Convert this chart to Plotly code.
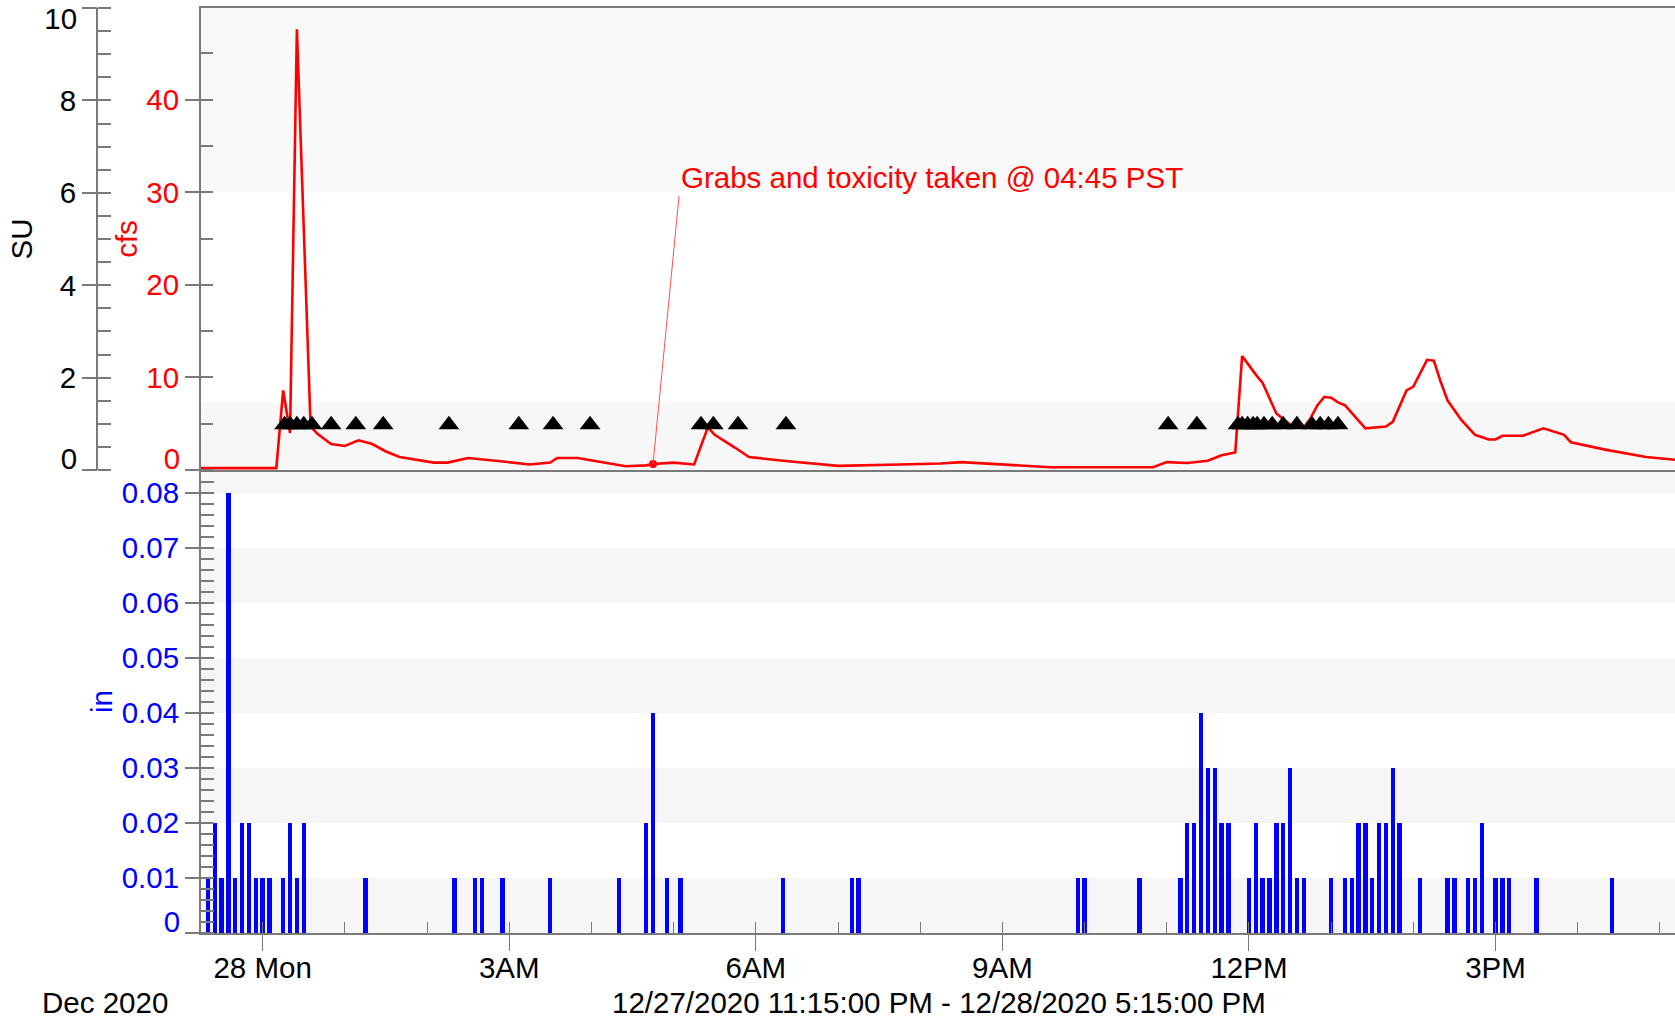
import plotly.graph_objects as go

# ---------------- data ----------------
flow_time = [
    "2020-12-27 23:15", "2020-12-28 00:10", "2020-12-28 00:15", "2020-12-28 00:20",
    "2020-12-28 00:25", "2020-12-28 00:35", "2020-12-28 00:40", "2020-12-28 00:50",
    "2020-12-28 01:00", "2020-12-28 01:10", "2020-12-28 01:20", "2020-12-28 01:30",
    "2020-12-28 01:40", "2020-12-28 01:55", "2020-12-28 02:05", "2020-12-28 02:15",
    "2020-12-28 02:30", "2020-12-28 02:50", "2020-12-28 03:15", "2020-12-28 03:30",
    "2020-12-28 03:35", "2020-12-28 03:50", "2020-12-28 04:05", "2020-12-28 04:25",
    "2020-12-28 04:40", "2020-12-28 04:45", "2020-12-28 05:00", "2020-12-28 05:15",
    "2020-12-28 05:25", "2020-12-28 05:30", "2020-12-28 05:45", "2020-12-28 05:55",
    "2020-12-28 06:20", "2020-12-28 06:35", "2020-12-28 07:00", "2020-12-28 07:45",
    "2020-12-28 08:15", "2020-12-28 08:30", "2020-12-28 09:05", "2020-12-28 09:35",
    "2020-12-28 10:15", "2020-12-28 10:50", "2020-12-28 11:00", "2020-12-28 11:15",
    "2020-12-28 11:30", "2020-12-28 11:40", "2020-12-28 11:50", "2020-12-28 11:55",
    "2020-12-28 12:05", "2020-12-28 12:10", "2020-12-28 12:20", "2020-12-28 12:30",
    "2020-12-28 12:40", "2020-12-28 12:45", "2020-12-28 12:50", "2020-12-28 12:55",
    "2020-12-28 13:00", "2020-12-28 13:05", "2020-12-28 13:10", "2020-12-28 13:25",
    "2020-12-28 13:40", "2020-12-28 13:45", "2020-12-28 13:55", "2020-12-28 14:00",
    "2020-12-28 14:10", "2020-12-28 14:15", "2020-12-28 14:20", "2020-12-28 14:25",
    "2020-12-28 14:35", "2020-12-28 14:45", "2020-12-28 14:55", "2020-12-28 15:00",
    "2020-12-28 15:05", "2020-12-28 15:20", "2020-12-28 15:35", "2020-12-28 15:50",
    "2020-12-28 15:55", "2020-12-28 16:20", "2020-12-28 16:50", "2020-12-28 17:15",
]
flow_cfs = [
    0.2, 0.2, 8.6, 4.0,
    47.6, 4.7, 3.9, 2.8,
    2.6, 3.2, 2.8, 2.0,
    1.4, 1.0, 0.8, 0.8,
    1.3, 1.0, 0.6, 0.8,
    1.3, 1.3, 0.9, 0.4,
    0.5, 0.65, 0.8, 0.6,
    4.6, 3.8, 2.4, 1.4,
    1.0, 0.8, 0.45, 0.6,
    0.7, 0.85, 0.55, 0.3,
    0.3, 0.3, 0.85, 0.75,
    1.0, 1.6, 1.9, 12.3,
    10.3, 9.4, 6.1, 4.9,
    4.6, 5.6, 7.0, 7.9,
    7.8, 7.3, 7.0, 4.5,
    4.7, 5.2, 8.6, 9.0,
    11.9, 11.8, 9.5, 7.5,
    5.4, 3.8, 3.3, 3.3,
    3.7, 3.7, 4.5, 3.8,
    3.0, 2.2, 1.4, 1.05,
]

sample_time = [
    "2020-12-28 00:16", "2020-12-28 00:20", "2020-12-28 00:25", "2020-12-28 00:30",
    "2020-12-28 00:36", "2020-12-28 00:50", "2020-12-28 01:08", "2020-12-28 01:28",
    "2020-12-28 02:16", "2020-12-28 03:07", "2020-12-28 03:32", "2020-12-28 03:59",
    "2020-12-28 05:20", "2020-12-28 05:29", "2020-12-28 05:47", "2020-12-28 06:22",
    "2020-12-28 11:01", "2020-12-28 11:22", "2020-12-28 11:52", "2020-12-28 11:55",
    "2020-12-28 11:59", "2020-12-28 12:03", "2020-12-28 12:06", "2020-12-28 12:11",
    "2020-12-28 12:17", "2020-12-28 12:25", "2020-12-28 12:35", "2020-12-28 12:46",
    "2020-12-28 12:52", "2020-12-28 12:58", "2020-12-28 13:05",
]
sample_marker_cfs = [4.9] * len(sample_time)

rain_time = [
    "2020-12-27 23:20", "2020-12-27 23:25", "2020-12-27 23:30", "2020-12-27 23:35",
    "2020-12-27 23:40", "2020-12-27 23:45", "2020-12-27 23:50", "2020-12-27 23:55",
    "2020-12-28 00:00", "2020-12-28 00:05", "2020-12-28 00:15", "2020-12-28 00:20",
    "2020-12-28 00:25", "2020-12-28 00:30", "2020-12-28 01:15", "2020-12-28 02:20",
    "2020-12-28 02:35", "2020-12-28 02:40", "2020-12-28 02:55", "2020-12-28 03:30",
    "2020-12-28 04:20", "2020-12-28 04:40", "2020-12-28 04:45", "2020-12-28 04:55",
    "2020-12-28 05:05", "2020-12-28 06:20", "2020-12-28 07:10", "2020-12-28 07:15",
    "2020-12-28 09:55", "2020-12-28 10:00", "2020-12-28 10:40", "2020-12-28 11:10",
    "2020-12-28 11:15", "2020-12-28 11:20", "2020-12-28 11:25", "2020-12-28 11:30",
    "2020-12-28 11:35", "2020-12-28 11:40", "2020-12-28 11:45", "2020-12-28 12:00",
    "2020-12-28 12:05", "2020-12-28 12:10", "2020-12-28 12:15", "2020-12-28 12:20",
    "2020-12-28 12:25", "2020-12-28 12:30", "2020-12-28 12:35", "2020-12-28 12:40",
    "2020-12-28 13:00", "2020-12-28 13:10", "2020-12-28 13:15", "2020-12-28 13:20",
    "2020-12-28 13:25", "2020-12-28 13:30", "2020-12-28 13:35", "2020-12-28 13:40",
    "2020-12-28 13:45", "2020-12-28 13:50", "2020-12-28 14:05", "2020-12-28 14:25",
    "2020-12-28 14:30", "2020-12-28 14:40", "2020-12-28 14:45", "2020-12-28 14:50",
    "2020-12-28 15:00", "2020-12-28 15:05", "2020-12-28 15:10", "2020-12-28 15:30",
    "2020-12-28 16:25",
]
rain_in = [
    0.01, 0.02, 0.01, 0.08,
    0.01, 0.02, 0.02, 0.01,
    0.01, 0.01, 0.01, 0.02,
    0.01, 0.02, 0.01, 0.01,
    0.01, 0.01, 0.01, 0.01,
    0.01, 0.02, 0.04, 0.01,
    0.01, 0.01, 0.01, 0.01,
    0.01, 0.01, 0.01, 0.01,
    0.02, 0.02, 0.04, 0.03,
    0.03, 0.02, 0.02, 0.01,
    0.02, 0.01, 0.01, 0.02,
    0.02, 0.03, 0.01, 0.01,
    0.01, 0.01, 0.01, 0.02,
    0.02, 0.01, 0.02, 0.02,
    0.03, 0.02, 0.01, 0.01,
    0.01, 0.01, 0.01, 0.02,
    0.01, 0.01, 0.01, 0.01,
    0.01,
]

grab_time = ["2020-12-28 04:45"]
grab_cfs = [0.65]
grab_label = "Grabs and toxicity taken @ 04:45 PST"

x_tick_vals = ["2020-12-28 00:00", "2020-12-28 03:00", "2020-12-28 06:00",
               "2020-12-28 09:00", "2020-12-28 12:00", "2020-12-28 15:00"]
x_tick_text = ["28 Mon", "3AM", "6AM", "9AM", "12PM", "3PM"]
cfs_ticks = [0, 10, 20, 30, 40]
cfs_tick_text = ["", "10", "20", "30", "40"]
su_ticks = [0, 2, 4, 6, 8, 10]
su_tick_text = ["", "2", "4", "6", "8", ""]
in_ticks = [0, 0.01, 0.02, 0.03, 0.04, 0.05, 0.06, 0.07, 0.08]
in_tick_text = ["", "0.01", "0.02", "0.03", "0.04", "0.05", "0.06", "0.07", "0.08"]

x_range = ["2020-12-27 23:15", "2020-12-28 17:11"]
period_text = "12/27/2020 11:15:00 PM - 12/28/2020 5:15:00 PM"
month_text = "Dec 2020"

# ---------------- layout constants ----------------
W, H = 1675, 1019
FONT = "Liberation Sans, Arial, sans-serif"
FS = 29.5
AX = "#7a7a7a"
RED = "#ff0000"
BLUE = "#0000ff"
x_dom = [201 / W, 1.0]
top_dom = [(H - 470) / H, (H - 8) / H]
bot_dom = [(H - 933) / H, (H - 470) / H]
SU_POS = 97 / W
SU_RANGE = [0, 10.001]
CFS_RANGE = [0, 49.9]
IN_RANGE = [0, 0.08418]

fig = go.Figure()

fig.add_trace(go.Bar(x=rain_time, y=rain_in, width=190000, marker=dict(color=BLUE, line=dict(width=0)),
                     xaxis="x2", yaxis="y2", showlegend=False, hoverinfo="x+y"))
fig.add_trace(go.Scatter(x=flow_time, y=flow_cfs, mode="lines", line=dict(color=RED, width=2.6),
                         xaxis="x", yaxis="y", showlegend=False))
fig.add_trace(go.Scatter(x=sample_time, y=sample_marker_cfs, mode="markers",
                         marker=dict(symbol="triangle-up", size=18, color="black"),
                         xaxis="x", yaxis="y", showlegend=False))
fig.add_trace(go.Scatter(x=grab_time, y=grab_cfs, mode="markers",
                         marker=dict(size=8, color=RED), xaxis="x", yaxis="y", showlegend=False))
# empty traces so the extra (overlay) axes are created
for ya in ["y3", "y4", "y5", "y6"]:
    fig.add_trace(go.Scatter(x=[], y=[], xaxis="x", yaxis=ya, showlegend=False))
fig.add_trace(go.Scatter(x=[], y=[], xaxis="x3", yaxis="y2", showlegend=False))
fig.add_trace(go.Scatter(x=[], y=[], xaxis="x2", yaxis="y7", showlegend=False))

shapes = []
for lo, hi in [(0, 0.01), (0.02, 0.03), (0.04, 0.05), (0.06, 0.07), (0.08, 0.09)]:
    shapes.append(dict(type="rect", xref="x2 domain", yref="y2", x0=0, x1=1, y0=lo, y1=hi,
                       fillcolor="#f6f6f6", line=dict(width=0), layer="below"))
for lo, hi, c in [(0, 7.3, "#f7f7f7"), (30, 50, "#f9f9f9")]:
    shapes.append(dict(type="rect", xref="x domain", yref="y", x0=0, x1=1, y0=lo, y1=hi,
                       fillcolor=c, line=dict(width=0), layer="below"))

tickfont_black = dict(family=FONT, size=FS, color="black")


def edge_label_axis(overlay, rng, val, text, color, shift, position=None):
    d = dict(overlaying=overlay, side="left", range=rng, tickmode="array", tickvals=[val],
             ticktext=[text], ticks="outside", ticklen=14, tickwidth=1.5, tickcolor=AX,
             tickfont=dict(family=FONT, size=FS, color=color), ticklabelshift=shift,
             showgrid=False, zeroline=False, showline=False, automargin=False)
    if position is None:
        d["anchor"] = "x" if overlay == "y" else "x2"
    else:
        d["anchor"] = "free"
        d["position"] = position
    return d


fig.update_layout(
    width=W, height=H,
    margin=dict(l=0, r=0, t=0, b=0),
    paper_bgcolor="white", plot_bgcolor="white",
    font=dict(family=FONT, size=FS, color="black"),
    bargap=0,
    shapes=shapes,
    xaxis=dict(domain=x_dom, anchor="y", type="date", range=x_range, showticklabels=False,
               ticks="", showgrid=False, zeroline=False, showline=True, mirror=True,
               linecolor=AX, linewidth=2),
    xaxis2=dict(domain=x_dom, anchor="y2", type="date", range=x_range, tickmode="array",
                tickvals=x_tick_vals, ticktext=x_tick_text, ticks="outside", ticklen=8,
                tickwidth=1, tickcolor=AX, tickfont=tickfont_black, showgrid=False,
                zeroline=False, showline=True, linecolor=AX, linewidth=2,
                minor=dict(ticks="inside", ticklen=11, tickwidth=1, tickcolor=AX,
                           dtick=3600000, tick0="2020-12-28 00:00", showgrid=False)),
    xaxis3=dict(overlaying="x2", anchor="y2", type="date", range=x_range, tickmode="array",
                tickvals=x_tick_vals, showticklabels=False, ticks="outside", ticklen=17,
                tickwidth=1, tickcolor=AX, showgrid=False, zeroline=False, showline=False),
    yaxis=dict(domain=top_dom, anchor="x", range=CFS_RANGE, tickmode="array", tickvals=cfs_ticks,
               ticktext=cfs_tick_text, ticks="outside", ticklen=14, tickwidth=1.5, tickcolor=AX,
               tickfont=dict(family=FONT, size=FS, color=RED), showgrid=False, zeroline=False,
               showline=True, linecolor=AX, linewidth=2, automargin=False,
               title=dict(text="cfs", font=dict(family=FONT, size=FS, color=RED), standoff=0),
               minor=dict(ticks="inside", ticklen=12, tickwidth=1.5, tickcolor=AX, dtick=5,
                          showgrid=False)),
    yaxis3=dict(overlaying="y", anchor="free", position=SU_POS, side="left", range=SU_RANGE,
                tickmode="array", tickvals=su_ticks, ticktext=su_tick_text, ticks="outside",
                ticklen=14, tickwidth=1.5, tickcolor=AX, tickfont=tickfont_black, showgrid=False,
                zeroline=False, showline=True, linecolor=AX, linewidth=2, automargin=False,
                title=dict(text="SU", font=dict(family=FONT, size=FS, color="black"), standoff=17),
                minor=dict(ticks="inside", ticklen=13, tickwidth=1.5, tickcolor=AX, dtick=0.5,
                           showgrid=False)),
    yaxis4=edge_label_axis("y", CFS_RANGE, 0, "0", RED, -11),
    yaxis5=edge_label_axis("y", SU_RANGE, 0, "0", "black", -11, SU_POS),
    yaxis6=edge_label_axis("y", SU_RANGE, 10, "10", "black", 11, SU_POS),
    yaxis7=edge_label_axis("y2", IN_RANGE, 0, "0", BLUE, -11),
    yaxis2=dict(domain=bot_dom, anchor="x2", range=IN_RANGE, tickmode="array",
                tickvals=in_ticks, ticktext=in_tick_text, ticks="outside", ticklen=14,
                tickwidth=1.5, tickcolor=AX, tickfont=dict(family=FONT, size=FS, color=BLUE),
                showgrid=False, zeroline=False, showline=True, linecolor=AX, linewidth=2,
                automargin=False,
                title=dict(text="in", font=dict(family=FONT, size=FS, color=BLUE), standoff=0),
                minor=dict(ticks="inside", ticklen=13, tickwidth=1.5, tickcolor=AX, dtick=0.002,
                           showgrid=False)),
    annotations=[
        dict(x=grab_time[0], y=grab_cfs[0], xref="x", yref="y", text=grab_label,
             showarrow=True, arrowhead=0, arrowwidth=1, arrowcolor="#ff5050",
             ax=26, ay=-268, xanchor="left", yanchor="bottom",
             font=dict(family=FONT, size=FS, color=RED)),
        dict(x=40 / W, y=(H - 1002) / H, xref="paper", yref="paper", text=month_text,
             showarrow=False, xanchor="left", yanchor="middle",
             font=dict(family=FONT, size=FS, color="black")),
        dict(x=939 / W, y=(H - 1002) / H, xref="paper", yref="paper", text=period_text,
             showarrow=False, xanchor="center", yanchor="middle",
             font=dict(family=FONT, size=FS, color="black")),
    ],
)

fig.write_html("out.html", config={"displayModeBar": False},
               post_script="document.body.style.margin='0';document.body.style.overflow='hidden';")
